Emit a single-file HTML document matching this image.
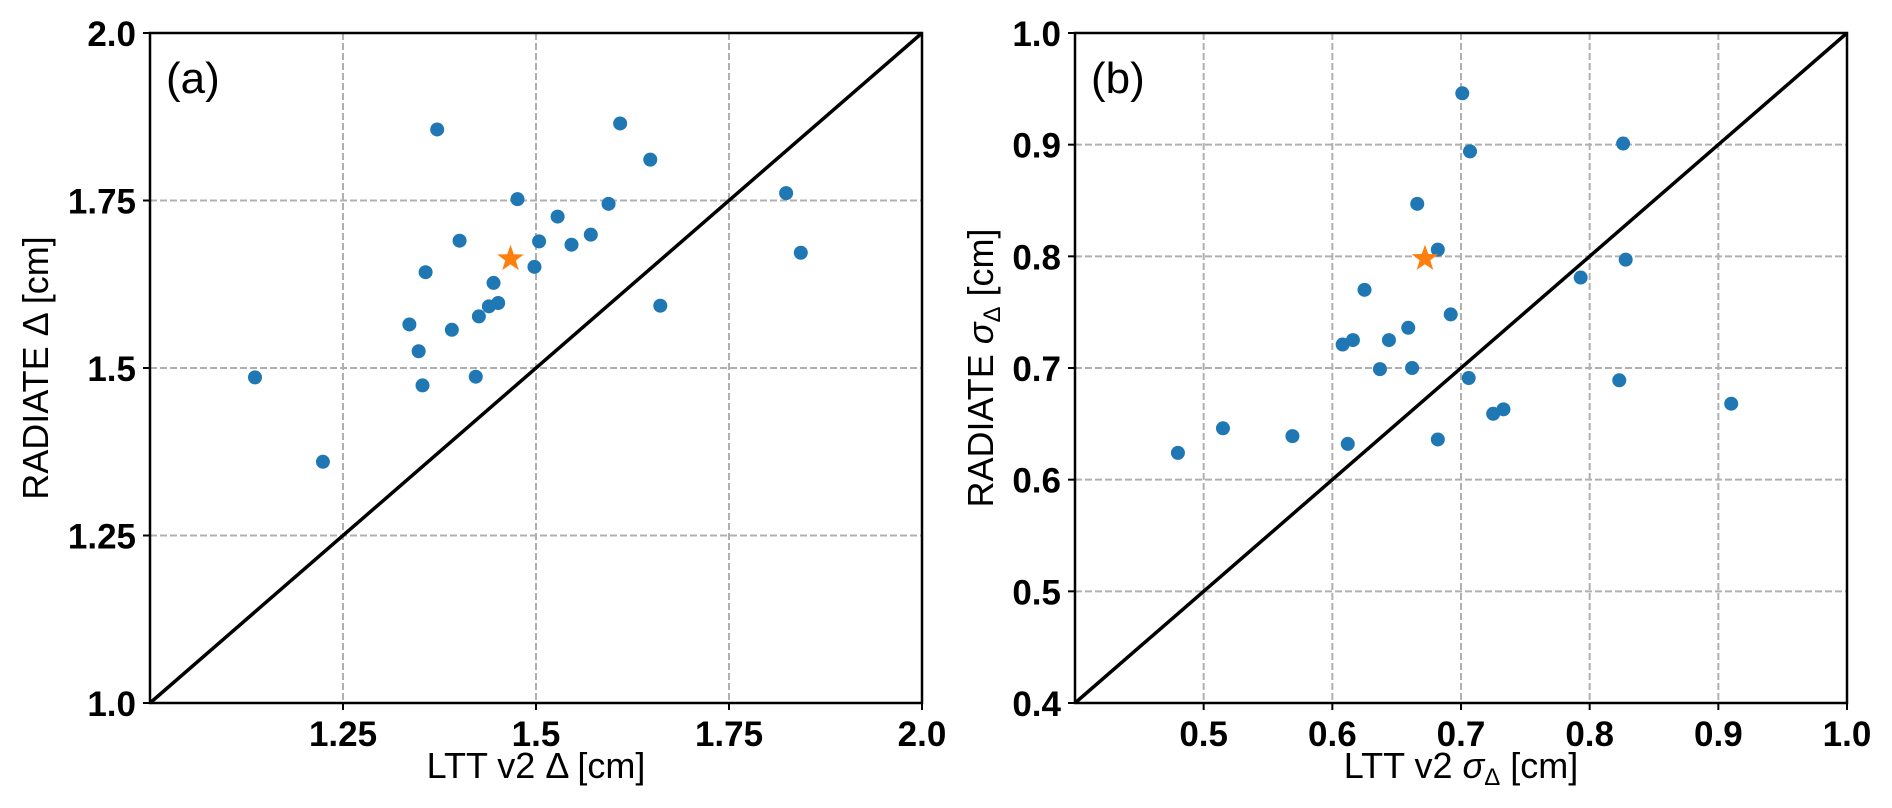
<!DOCTYPE html>
<html><head><meta charset="utf-8"><style>
html,body{margin:0;padding:0;background:#fff;}
svg{display:block;font-family:"Liberation Sans","DejaVu Sans",sans-serif;}
</style></head><body>
<svg id="fig" width="1892" height="808" viewBox="0 0 1892 808" xmlns="http://www.w3.org/2000/svg"></svg>
<script>
const aX=[1.372,1.609,1.648,1.476,1.594,1.824,1.528,1.401,1.504,1.571,1.546,1.843,1.357,1.498,1.445,1.439,1.451,1.426,1.661,1.336,1.391,1.348,1.136,1.422,1.353,1.224];
const aY=[1.856,1.865,1.811,1.752,1.745,1.761,1.726,1.690,1.689,1.699,1.684,1.672,1.643,1.651,1.627,1.592,1.597,1.577,1.593,1.565,1.557,1.525,1.486,1.487,1.474,1.360];
const aStar=[1.467,1.663];
const aTicksX=[1.25,1.5,1.75,2.0];
const aTickLabelsX=["1.25","1.5","1.75","2.0"];
const aTicksY=[1.0,1.25,1.5,1.75,2.0];
const aTickLabelsY=["1.0","1.25","1.5","1.75","2.0"];
const bX=[0.701,0.707,0.666,0.682,0.625,0.692,0.659,0.608,0.616,0.644,0.637,0.662,0.706,0.725,0.733,0.515,0.569,0.480,0.612,0.682,0.826,0.828,0.793,0.823,0.910];
const bY=[0.946,0.894,0.847,0.806,0.770,0.748,0.736,0.721,0.725,0.725,0.699,0.700,0.691,0.659,0.663,0.646,0.639,0.624,0.632,0.636,0.901,0.797,0.781,0.689,0.668];
const bStar=[0.672,0.798];
const bTicksX=[0.5,0.6,0.7,0.8,0.9,1.0];
const bTickLabelsX=["0.5","0.6","0.7","0.8","0.9","1.0"];
const bTicksY=[0.4,0.5,0.6,0.7,0.8,0.9,1.0];
const bTickLabelsY=["0.4","0.5","0.6","0.7","0.8","0.9","1.0"];

const NS="http://www.w3.org/2000/svg";
const svg=document.getElementById('fig');
function mk(tag,attrs,parent){const e=document.createElementNS(NS,tag);for(const k in attrs)e.setAttribute(k,attrs[k]);(parent||svg).appendChild(e);return e;}

function panel(p){
  const g=mk('g',{});
  
  
  const sx=v=>p.x0+(v-p.xmin)/(p.xmax-p.xmin)*(p.x1-p.x0);
  const sy=v=>p.y1-(v-p.ymin)/(p.ymax-p.ymin)*(p.y1-p.y0);
  // grid
  p.tx.forEach((t,i)=>{
    const X=sx(t);
    const gl=mk('line',{x1:X,x2:X,y1:p.y0,y2:p.y1,stroke:'#b0b0b0','stroke-width':2,'stroke-dasharray':'7,3'},g);
    
    
    const tk=mk('line',{x1:X,x2:X,y1:p.y1,y2:p.y1+7,stroke:'#000','stroke-width':2},g);
    
    
    const tl=mk('text',{x:X,y:p.y1+43,'text-anchor':'middle','font-size':35,'font-weight':'bold'},g);
    tl.textContent=p.txl[i];
    
    
  });
  p.ty.forEach((t,i)=>{
    const Y=sy(t);
    const gl=mk('line',{x1:p.x0,x2:p.x1,y1:Y,y2:Y,stroke:'#b0b0b0','stroke-width':2,'stroke-dasharray':'7,3'},g);
    
    
    const tk=mk('line',{x1:p.x0-7,x2:p.x0,y1:Y,y2:Y,stroke:'#000','stroke-width':2},g);
    
    
    const tl=mk('text',{x:p.x0-14,y:Y+13,'text-anchor':'end','font-size':35,'font-weight':'bold'},g);
    tl.textContent=p.tyl[i];
    
    
  });
  // diagonal
  const d=mk('line',{x1:sx(p.xmin),y1:sy(p.ymin),x2:sx(p.xmax),y2:sy(p.ymax),stroke:'#000','stroke-width':3.5},g);
  
  
  // points
  p.xs.forEach((v,i)=>{
    const c=mk('circle',{cx:sx(v),cy:sy(p.ys[i]),r:7,fill:'#1f77b4'},g);
    
    
  });
  // star
  const cx=sx(p.star[0]),cy=sy(p.star[1]),R=14,r=5.6;let pts=[];
  for(let k=0;k<10;k++){const a=-Math.PI/2+k*Math.PI/5;const rr=k%2?r:R;pts.push((cx+rr*Math.cos(a)).toFixed(1)+','+(cy+rr*Math.sin(a)).toFixed(1));}
  const st=mk('polygon',{points:pts.join(' '),fill:'#ff7f0e'},g);
  
  
  // frame
  const fr=mk('rect',{x:p.x0,y:p.y0,width:p.x1-p.x0,height:p.y1-p.y0,fill:'none',stroke:'#000','stroke-width':2.5},g);
  
  
  // panel letter
  const pl=mk('text',{x:p.x0+16,y:p.y0+60,'font-size':44},g);
  pl.textContent=p.letter;
  
  
  // axis titles
  const xt=mk('text',{x:(p.x0+p.x1)/2,y:778,'text-anchor':'middle','font-size':36},g);
  xt.innerHTML=p.xlab;
  
  
  const yt=mk('text',{x:0,y:0,'text-anchor':'middle','font-size':36,transform:'translate('+p.ylx+','+((p.y0+p.y1)/2)+') rotate(-90)'},g);
  yt.innerHTML=p.ylab;
  
  
}
panel({name:'a',x0:150,x1:922,y0:33,y1:703,xmin:1,xmax:2,ymin:1,ymax:2,tx:aTicksX,txl:aTickLabelsX,ty:aTicksY,tyl:aTickLabelsY,xs:aX,ys:aY,star:aStar,letter:'(a)',
  xlab:'LTT v2 Δ [cm]',ylab:'RADIATE Δ [cm]',ylx:48});
panel({name:'b',x0:1075,x1:1847,y0:33,y1:703,xmin:0.4,xmax:1.0,ymin:0.4,ymax:1.0,tx:bTicksX,txl:bTickLabelsX,ty:bTicksY,tyl:bTickLabelsY,xs:bX,ys:bY,star:bStar,letter:'(b)',
  xlab:'LTT v2 <tspan font-style="italic">σ</tspan><tspan font-size="24" dy="7">Δ</tspan><tspan dy="-7"> [cm]</tspan>',
  ylab:'RADIATE <tspan font-style="italic">σ</tspan><tspan font-size="24" dy="7">Δ</tspan><tspan dy="-7"> [cm]</tspan>',ylx:993});
</script>
</body></html>
